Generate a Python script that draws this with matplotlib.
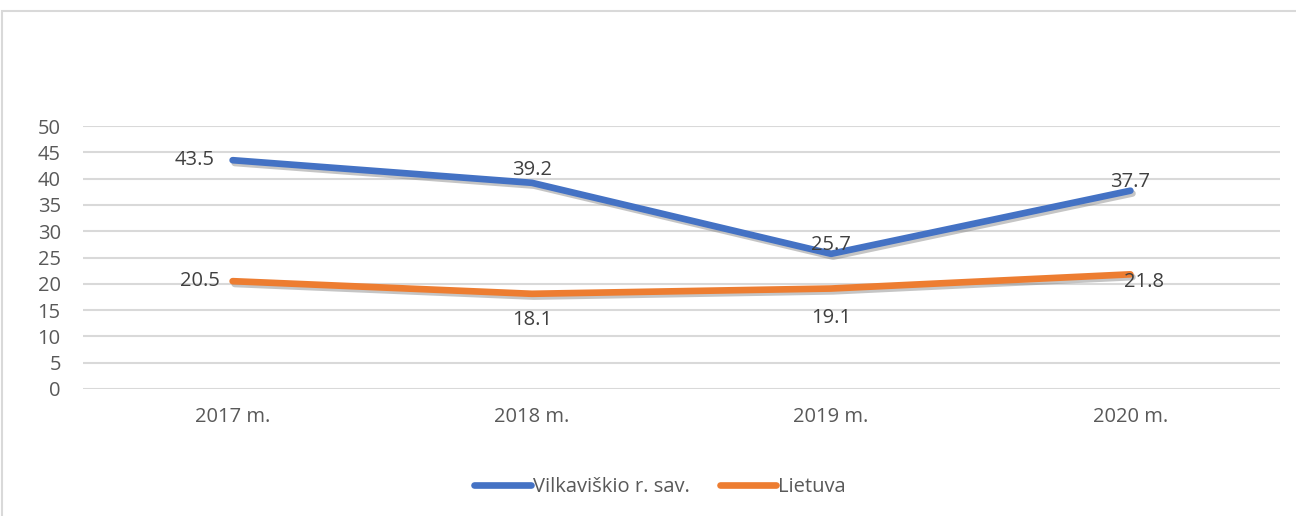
import matplotlib
matplotlib.use("Agg")
import matplotlib.pyplot as plt
import matplotlib.patheffects as pe
from matplotlib.patches import Rectangle

plt.rcParams['font.family'] = ['Open Sans', 'DejaVu Sans']

categories = ["2017 m.", "2018 m.", "2019 m.", "2020 m."]
vilkaviskio = [43.5, 39.2, 25.7, 37.7]
lietuva = [20.5, 18.1, 19.1, 21.8]
series_names = ["Vilkaviškio r. sav.", "Lietuva"]
yticks = [0, 5, 10, 15, 20, 25, 30, 35, 40, 45, 50]

blue = "#4472C4"
orange = "#ED7D31"
FS = 14.5

fig = plt.figure(figsize=(12.96, 5.16), dpi=100)
ax = fig.add_axes([83/1296, 127/516, 1197/1296, 263/516])

x = [i + 0.5 for i in range(len(categories))]
shadow = [pe.SimpleLineShadow(offset=(1.5, -2), shadow_color="#7f7f7f", alpha=0.45), pe.Normal()]
l1, = ax.plot(x, vilkaviskio, color=blue, lw=4.8, solid_capstyle='round', path_effects=shadow, zorder=3)
l2, = ax.plot(x, lietuva, color=orange, lw=4.8, solid_capstyle='round', path_effects=shadow, zorder=3)

ax.set_xlim(0, 4)
ax.set_ylim(0, 50)
ax.set_yticks(yticks)
ax.set_xticks(x)
ax.set_xticklabels(categories)
ax.grid(axis='y', color="#D9D9D9", lw=1.5)
ax.set_axisbelow(True)
for s in ax.spines.values():
    s.set_visible(False)
ax.tick_params(axis='both', length=0, labelsize=FS, labelcolor="#595959")
ax.tick_params(axis='y', pad=16)
ax.tick_params(axis='x', pad=13)

lab_kw = dict(fontsize=FS, color="#404040", textcoords='offset points', zorder=4)
v_off = [(-13, 0, 'right', 'center'), (0, 9.5, 'center', 'center'), (0, 6.5, 'center', 'center'), (0, 6.5, 'center', 'center')]
l_off = [(-9, 0, 'right', 'center'), (0, -19, 'center', 'center'), (0, -21, 'center', 'center'), (10, -5.5, 'center', 'center')]
for xi, v, (dx, dy, ha, va) in zip(x, vilkaviskio, v_off):
    ax.annotate(f"{v}", (xi, v), xytext=(dx, dy), ha=ha, va=va, **lab_kw)
for xi, v, (dx, dy, ha, va) in zip(x, lietuva, l_off):
    ax.annotate(f"{v}", (xi, v), xytext=(dx, dy), ha=ha, va=va, **lab_kw)

leg = fig.legend([l1, l2], series_names, loc='center', bbox_to_anchor=(660/1296, 1 - 487/516),
                 ncol=2, frameon=False, fontsize=FS, handlelength=2.8, handletextpad=0.1,
                 columnspacing=1.5, labelcolor="#595959")
for h in leg.legend_handles:
    h.set_path_effects([])

fig.patches.append(Rectangle((2/1296, -0.1), 1.2, 1 - 11/516 + 0.1, transform=fig.transFigure,
                             fill=False, edgecolor="#D9D9D9", lw=1.5))

fig.savefig("out.png", dpi=100)
